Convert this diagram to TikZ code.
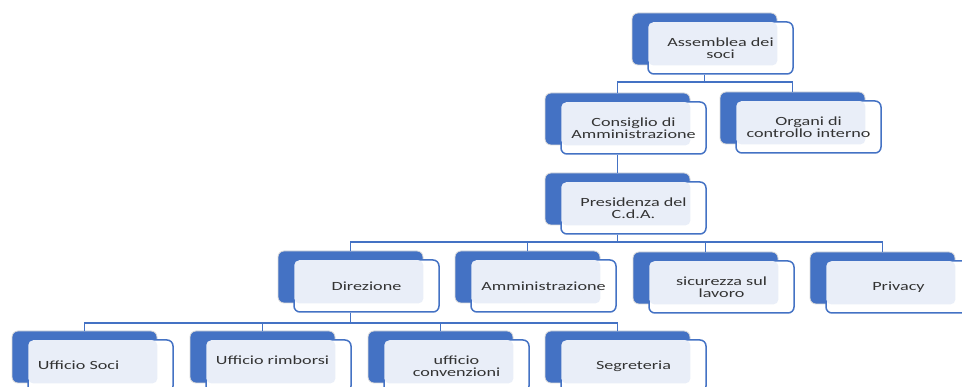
\documentclass[tikz,border=0pt]{standalone}
\usepackage{fontspec}
\setmainfont{Carlito}[FakeStretch=1.45]
\usetikzlibrary{calc}

\definecolor{sablue}{HTML}{4472C4}
\definecolor{salight}{HTML}{E9EEF8}
\definecolor{satext}{HTML}{333333}

\begin{document}
\begin{tikzpicture}[x=1pt, y=-1pt,
  achter/.style={fill=sablue, draw=black!15, line width=0.8pt, rounded corners=6pt,
    minimum width=145pt, minimum height=52pt, inner sep=0pt},
  voor/.style={fill=white, draw=sablue, line width=1.5pt, rounded corners=6pt,
    minimum width=145pt, minimum height=52pt, inner sep=0pt},
  tekst/.style={text=satext, align=center, inner sep=0pt,
    font=\fontsize{12.5}{12}\selectfont},
  lijn/.style={draw=sablue, line width=1.7pt}]
  \useasboundingbox (0,0) rectangle (962,387);
  \clip (0,0) rectangle (962,387);

  % blokken: naam/x/y/tekstverschuiving/tekst
  \foreach \n/\x/\y/\dx/\dy/\t in {
      ass/704.5/39/0/0/{Assemblea dei\\soci},
      cda/617.5/119/0/0/{Consiglio di\\Amministrazione},
      org/792.5/118/0/0/{Organi di\\controllo interno},
      pre/617.5/199/0/0/{Presidenza del\\C.d.A.},
      dir/350.5/277/0/0/{Direzione},
      amm/527.5/277/0/0/{Amministrazione},
      sic/705.5/278/0/0/{sicurezza sul\\lavoro},
      pri/882.5/278/0/0/{Privacy},
      soc/84.5/357/-22/-1/{Ufficio Soci},
      rim/262.5/357/-6/-6/{Ufficio rimborsi},
      con/440.5/357/0/0/{ufficio\\convenzioni},
      seg/617.5/357/0/0/{Segreteria}} {
    \node[achter] (\n) at (\x,\y) {};
    \node[voor] (\n-f) at ([shift={(16,9)}]\n.center) {};
    \fill[salight, rounded corners=5pt]
      ([shift={(1,1)}]\n-f.north west) rectangle (\n.south east);
    \node[tekst] (\n-t) at ([shift={(\dx,\dy)}]\n-f.center) {\t};
  }

  % rails
  \coordinate (r1) at (0,82);
  \coordinate (r3) at (0,242);
  \coordinate (r4) at (0,323);

  % verbindingen
  \draw[lijn] (ass.center |- ass-f.south) -- (ass.center |- r1) -| (cda.north);
  \draw[lijn] (ass.center |- r1) -| (org.north);
  \draw[lijn] (cda.center |- cda-f.south) -- (pre.north);
  \foreach \k in {dir,amm,sic,pri}
    \draw[lijn] (pre.center |- pre-f.south) -- (pre.center |- r3) -| (\k.north);
  \foreach \k in {soc,rim,con,seg}
    \draw[lijn] (dir.center |- dir-f.south) -- (dir.center |- r4) -| (\k.north);
\end{tikzpicture}
\end{document}
